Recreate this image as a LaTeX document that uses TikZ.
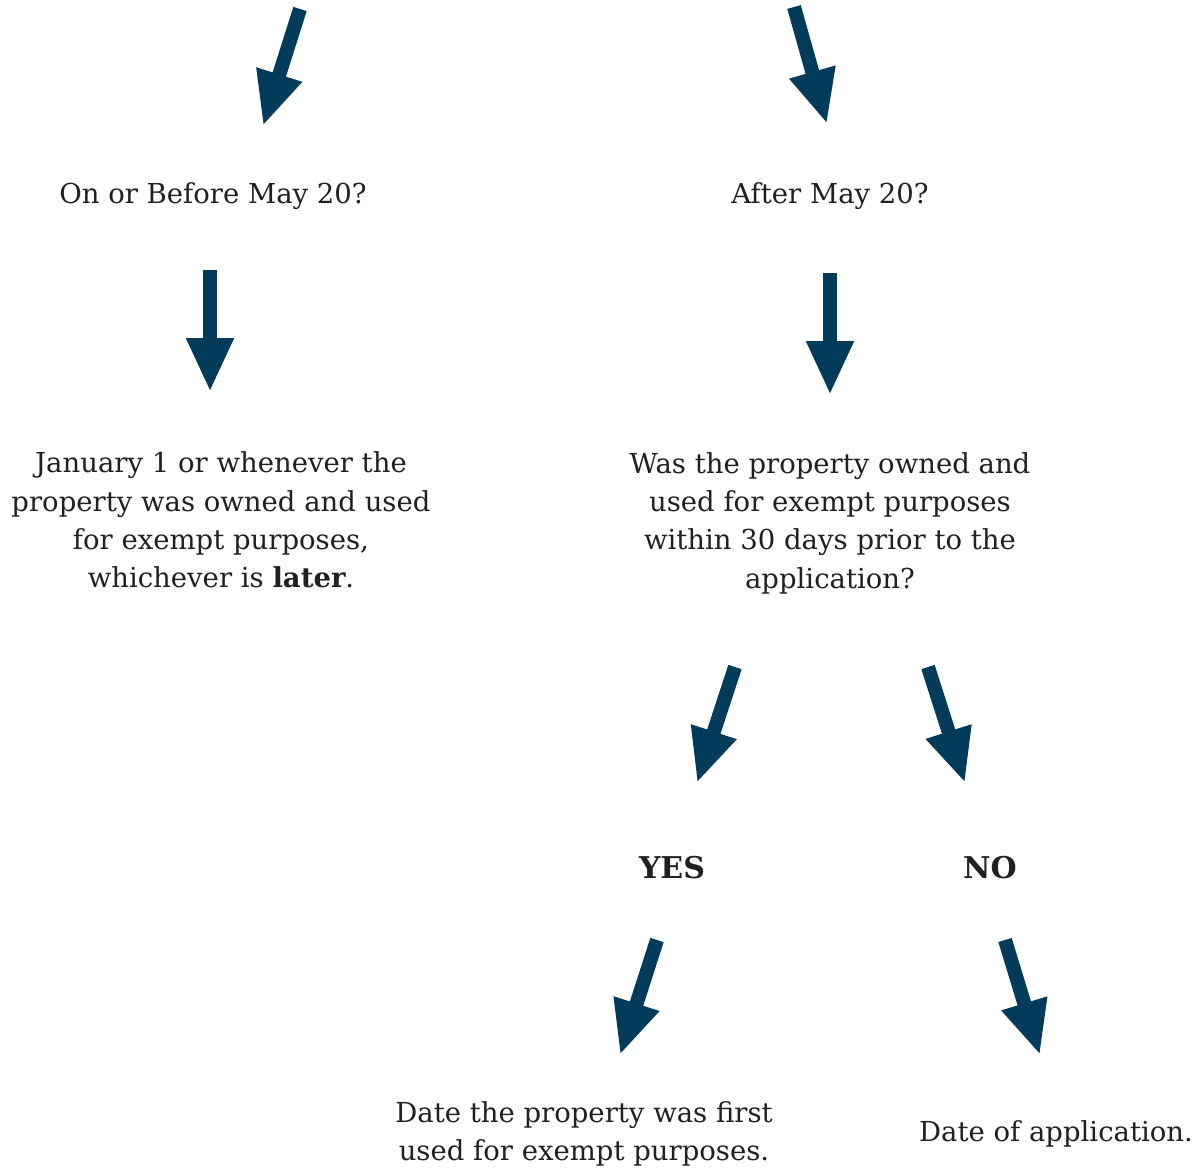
\documentclass[tikz,border=0pt]{standalone}
\usepackage{fontspec}
\setmainfont{DejaVu Serif}
\usetikzlibrary{arrows.meta}
\definecolor{arrowblue}{RGB}{3,59,91}
\definecolor{txt}{RGB}{35,31,32}
\tikzset{
  blockarrow/.style={draw=arrowblue, line width=14pt,
    -{Triangle[length=54pt,width=44pt]}},
  lbl/.style={text=txt, font=\fontsize{27.5}{38.3}\selectfont, align=center, inner sep=0pt, anchor=center},
  ans/.style={lbl, font=\fontsize{30}{38.3}\selectfont\bfseries}
}
\begin{document}
\begin{tikzpicture}[x=1pt,y=-1pt]
\useasboundingbox (0,0) rectangle (1202,1168);
% coordinates for arrows
\coordinate (a1s) at (300,9);   \coordinate (a1e) at (263,126);
\coordinate (a2s) at (794,7);   \coordinate (a2e) at (827,124);
\coordinate (a3s) at (210,270); \coordinate (a3e) at (210,392);
\coordinate (a4s) at (830,273); \coordinate (a4e) at (830,395);
\coordinate (a5s) at (735,667); \coordinate (a5e) at (697,783);
\coordinate (a6s) at (928,667); \coordinate (a6e) at (965,783);
\coordinate (a7s) at (657,940); \coordinate (a7e) at (620,1055);
\coordinate (a8s) at (1005,940); \coordinate (a8e) at (1040,1055);

\node[lbl] (q1) at (213,196) {On or Before May 20?};
\node[lbl] (q2) at (830,196) {After May 20?};
\node[lbl] (r1) at (221,520) {January 1 or whenever the\\property was owned and used\\for exempt purposes,\\whichever is \textbf{later}.};
\node[lbl] (q3) at (830,523) {Was the property owned and\\used for exempt purposes\\within 30 days prior to the\\application?};
\node[ans] (yes) at (672,868) {YES};
\node[ans] (no) at (990,868) {NO};
\node[lbl] (r2) at (584,1134) {Date the property was first\\used for exempt purposes.};
\node[lbl] (r3) at (1056,1134) {Date of application.};

\draw[blockarrow] (a1s) -- (a1e);
\draw[blockarrow] (a2s) -- (a2e);
\draw[blockarrow] (a3s) -- (a3e);
\draw[blockarrow] (a4s) -- (a4e);
\draw[blockarrow] (a5s) -- (a5e);
\draw[blockarrow] (a6s) -- (a6e);
\draw[blockarrow] (a7s) -- (a7e);
\draw[blockarrow] (a8s) -- (a8e);
\end{tikzpicture}
\end{document}
